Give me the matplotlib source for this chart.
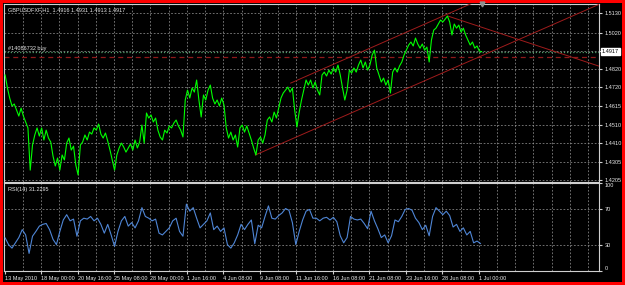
import numpy as np
import matplotlib.pyplot as plt
from matplotlib.patches import Rectangle
import matplotlib.transforms as mtransforms

# chart texts
symbol_info = "GBPUSDFXF,H1  1.4916 1.4931 1.4913 1.4917"
order_label = "#14086732 buy"
rsi_label = "RSI(14) 31.2295"

# close prices, one sample every 4 H1 bars
price_step = 4
price = [
    1.4788, 1.4716, 1.4660, 1.4616, 1.4627, 1.4593, 1.4560, 1.4604, 1.4560, 1.4527,
    1.4494, 1.4260, 1.4399, 1.4455, 1.4494, 1.4449, 1.4494, 1.4427, 1.4482, 1.4438,
    1.4416, 1.4338, 1.4283, 1.4327, 1.4260, 1.4344, 1.4316, 1.4410, 1.4438, 1.4371,
    1.4393, 1.4288, 1.4233, 1.4399, 1.4416, 1.4455, 1.4427, 1.4471, 1.4460, 1.4494,
    1.4482, 1.4516, 1.4460, 1.4438, 1.4466, 1.4421, 1.4371, 1.4316, 1.4260, 1.4344,
    1.4383, 1.4410, 1.4388, 1.4360, 1.4383, 1.4405, 1.4371, 1.4427, 1.4383, 1.4416,
    1.4510, 1.4410, 1.4577, 1.4549, 1.4566, 1.4527, 1.4549, 1.4482, 1.4444, 1.4427,
    1.4482, 1.4466, 1.4505, 1.4494, 1.4521, 1.4538, 1.4505, 1.4482, 1.4444, 1.4649,
    1.4704, 1.4660, 1.4716, 1.4693, 1.4760, 1.4649, 1.4555, 1.4677, 1.4649, 1.4704,
    1.4732, 1.4660, 1.4627, 1.4649, 1.4616, 1.4660, 1.4621, 1.4494, 1.4438, 1.4471,
    1.4427, 1.4455, 1.4388, 1.4494, 1.4510, 1.4471, 1.4505, 1.4466, 1.4427, 1.4383,
    1.4344, 1.4427, 1.4444, 1.4410, 1.4455, 1.4538, 1.4555, 1.4527, 1.4582, 1.4549,
    1.4604, 1.4660, 1.4688, 1.4704, 1.4721, 1.4693, 1.4716, 1.4593, 1.4499, 1.4582,
    1.4649, 1.4704, 1.4760, 1.4732, 1.4760, 1.4716, 1.4749, 1.4704, 1.4677, 1.4788,
    1.4804, 1.4782, 1.4815, 1.4793, 1.4827, 1.4804, 1.4843, 1.4788, 1.4716, 1.4649,
    1.4704, 1.4815, 1.4799, 1.4827, 1.4804, 1.4843, 1.4871, 1.4827, 1.4860, 1.4815,
    1.4843, 1.4899, 1.4926, 1.4827, 1.4788, 1.4749, 1.4771, 1.4732, 1.4760, 1.4688,
    1.4804, 1.4827, 1.4804, 1.4838, 1.4860, 1.4899, 1.4926, 1.4954, 1.4971, 1.4949,
    1.4993, 1.4960, 1.4937, 1.4960, 1.4926, 1.4943, 1.4860, 1.4982, 1.5037, 1.5048,
    1.5071, 1.5093, 1.5082, 1.5098, 1.5115, 1.5082, 1.5010, 1.5071, 1.5048, 1.5065,
    1.5026, 1.5048, 1.5010, 1.4982, 1.4954, 1.4971, 1.4937, 1.4949, 1.4921, 1.4917,
]

# RSI(14), one sample every 6 bars
rsi_step = 6
rsi = [
    37.6, 30, 26, 32, 38, 47, 41, 20, 39.5, 45,
    51, 53, 54, 47, 36, 30, 45, 58, 64, 57,
    59, 39.5, 57, 60, 59, 62, 57, 60, 53, 43,
    53, 41, 28, 45, 57, 62, 51, 55, 49, 57,
    72, 62, 60, 57, 59, 43, 41, 45, 49, 57,
    60, 45, 39.5, 76, 68, 72, 60, 49, 53, 57,
    66, 47, 51, 45, 49, 30, 26, 32, 41, 53,
    47, 53, 58, 31, 52, 49, 62, 74, 60, 59,
    63, 66, 71, 69, 55, 30, 45, 58, 68, 70,
    60, 60, 57, 60, 61, 58, 61, 56, 40, 32,
    38, 62, 59, 58, 59, 54, 48, 68, 57, 48,
    38, 41, 32, 40, 58, 56, 62, 70, 71, 69,
    60, 55, 47, 52, 40, 62, 72, 68, 64, 68,
    63, 50, 53, 45, 49, 41, 45, 32, 34, 31.2295,
]

date_labels = ["13 May 2010", "18 May 00:00", "20 May 16:00", "25 May 08:00",
               "28 May 00:00", "1 Jun 16:00", "4 Jun 08:00", "9 Jun 08:00",
               "11 Jun 16:00", "16 Jun 08:00", "21 Jun 08:00", "23 Jun 16:00",
               "28 Jun 08:00", "1 Jul 00:00"]

price_ticks = [1.4205, 1.4305, 1.4410, 1.4510, 1.4615, 1.4720, 1.4820, 1.4920, 1.5020, 1.5130]
price_tick_labels = ["1.4205", "1.4305", "1.4410", "1.4510", "1.4615", "1.4720", "1.4820", "", "1.5020", "1.5130"]
rsi_ticks = [0, 30, 70, 100]
rsi_levels = [30, 70]

last_price = 1.4917
order_price = 1.4917
level_price = 1.4888

# trend lines: (bar, price) anchors
upper_channel = [(501, 1.4743), (812, 1.5176)]
lower_channel = [(439, 1.4344), (835, 1.4893)]
down_line = [(777, 1.5115), (1042, 1.4837)]

# ---- figure ----
W, H = 625, 285
fig = plt.figure(figsize=(W / 100, H / 100), dpi=100)
fig.patch.set_facecolor('#ff0000')
fig.patches.append(Rectangle((3 / W, 3 / H), 619 / W, 279 / H, transform=fig.transFigure,
                             facecolor='black', edgecolor='none', zorder=-10))

ax = fig.add_axes([4 / W, (H - 182) / H, 595 / W, 178 / H])
ax2 = fig.add_axes([4 / W, (H - 271) / H, 595 / W, 88 / H], sharex=ax)

font = ['Liberation Sans', 'DejaVu Sans']
txt = dict(color='#e8e8e8', fontsize=4.0, family=font)
grid_col = '#9a9a9a'
frame_col = '#d0d0d0'
trend_col = '#a01c1c'

x_price = np.arange(len(price)) * price_step
x_rsi = np.arange(len(rsi)) * rsi_step
xmin, xmax = -2, 1042

grid_x = np.arange(31, xmax, 32)
label_x = [0] + [63 + 64 * k for k in range(len(date_labels) - 1)]

for a in (ax, ax2):
    a.set_facecolor('black')
    for s in a.spines.values():
        s.set_color(frame_col)
        s.set_linewidth(0.8)
    for gx in grid_x:
        a.axvline(gx, color=grid_col, lw=0.5, ls=(0, (2.5, 2.5)), zorder=1)
    a.set_xlim(xmin, xmax)

# main panel
ax.set_ylim(1.4194, 1.5182)
for p in price_ticks:
    ax.axhline(p, color=grid_col, lw=0.5, ls=(0, (2.5, 2.5)), zorder=1)
ax.yaxis.tick_right()
ax.set_yticks(price_ticks)
ax.set_yticklabels(price_tick_labels, **txt)
ax.tick_params(axis='y', length=2, color=frame_col, pad=2)
ax.tick_params(axis='x', bottom=False, labelbottom=False)

ax.axhline(order_price, color='#4e9a68', lw=0.9, ls=(0, (1, 1.5)), zorder=2)
ax.axhline(level_price, color='#8e1a1a', lw=0.9, ls=(0, (4, 3)), zorder=2)

def ray(a, pts, col):
    (x0, y0), (x1, y1) = pts
    slope = (y1 - y0) / (x1 - x0)
    a.plot([x0, xmax], [y0, y0 + slope * (xmax - x0)], color=col, lw=0.7, zorder=3)

ray(ax, upper_channel, trend_col)
ray(ax, lower_channel, trend_col)
ray(ax, down_line, trend_col)

ax.plot(x_price, price, color='#00ff00', lw=0.8, zorder=4)

trans = mtransforms.blended_transform_factory(ax.transAxes, ax.transData)
ax.text(1.005, last_price, f"{last_price:.4f}", transform=trans, ha='left', va='center',
        color='black', fontsize=4.0, family=font,
        bbox=dict(facecolor='white', edgecolor='white', pad=0.8), clip_on=False)

ax.text(0.006, 0.966, symbol_info, transform=ax.transAxes, ha='left', va='center', **txt)
ax.text(0.006, order_price + 0.0005, order_label, transform=trans, ha='left', va='bottom', **txt)
ax.plot([x_price[-1]], [1.5182], marker='v', color='#909090', ms=3.5, clip_on=False, zorder=5)

# RSI panel
ax2.set_ylim(0, 100)
for lv in rsi_levels:
    ax2.axhline(lv, color=grid_col, lw=0.5, ls=(0, (2.5, 2.5)), zorder=1)
ax2.plot(x_rsi, rsi, color='#4f86d6', lw=0.8, zorder=3)
ax2.yaxis.tick_right()
ax2.set_yticks(rsi_ticks)
ax2.set_yticklabels([str(t) for t in rsi_ticks], **txt)
rl = ax2.get_yticklabels()
rl[0].set_va('bottom')
rl[-1].set_va('top')
ax2.tick_params(axis='y', length=2, color=frame_col, pad=2)
ax2.text(0.006, 0.93, rsi_label, transform=ax2.transAxes, ha='left', va='center', **txt)

ax2.set_xticks(label_x)
ax2.set_xticklabels(date_labels, ha='left', **txt)
ax2.tick_params(axis='x', length=2, color=frame_col, pad=1.5)

fig.savefig('out.png', dpi=100, facecolor=fig.get_facecolor())
